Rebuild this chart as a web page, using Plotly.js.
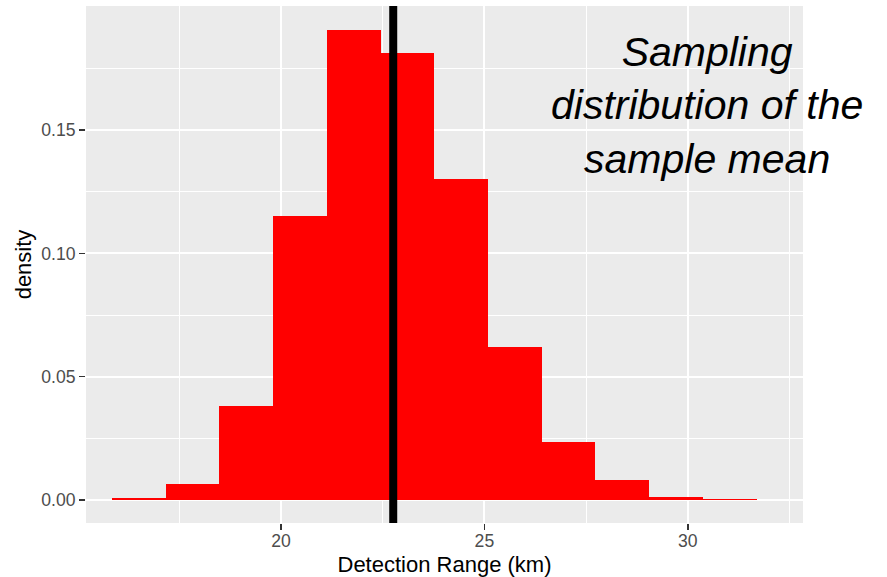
<!DOCTYPE html>
<html>
<head>
<meta charset="utf-8">
<script src="https://cdn.plot.ly/plotly-3.0.1.min.js"></script>
<style>
  html, body { margin: 0; padding: 0; background: #ffffff; }
  #chart { width: 887px; height: 577px; }
</style>
</head>
<body>
<div id="chart"></div>
<script>
// Histogram bin centres (km) and densities
const binCenters = [16.51, 17.83, 19.15, 20.47, 21.79, 23.11, 24.43, 25.75, 27.07, 28.39, 29.71, 31.03, 32.35];
const binWidths  = [1.32, 1.32, 1.32, 1.32, 1.32, 1.32, 1.32, 1.32, 1.32, 1.32, 1.32, 1.32, 1.32];
const densities  = [0.0007, 0.0065, 0.0382, 0.1153, 0.1905, 0.1811, 0.1301, 0.0619, 0.0236, 0.0081, 0.0014, 0.0004, 0.0001];
const meanValue  = 22.76;
const xTickVals  = [20, 25, 30];
const yTickVals  = [0.00, 0.05, 0.10, 0.15];
const annotationText = "Sampling<br>distribution of the<br>sample mean";

const FONT = "Liberation Sans, Arial, Helvetica, sans-serif";

const traces = [{
  type: "bar",
  x: binCenters,
  y: densities,
  width: binWidths,
  marker: { color: "#FF0000", line: { width: 0 } },
  hoverinfo: "x+y",
  showlegend: false
}];

const layout = {
  width: 887,
  height: 577,
  margin: { l: 86, r: 84, t: 6, b: 54, pad: 0 },
  paper_bgcolor: "#FFFFFF",
  plot_bgcolor: "#EBEBEB",
  font: { family: FONT, color: "#000000" },
  showlegend: false,
  bargap: 0,
  xaxis: {
    range: [15.21, 32.83],
    tickmode: "array",
    tickvals: xTickVals,
    ticktext: xTickVals.map(String),
    ticks: "outside",
    ticklen: 6,
    tickwidth: 1.5,
    tickcolor: "#333333",
    ticklabelstandoff: -4,
    tickfont: { family: FONT, size: 17.6, color: "#4D4D4D" },
    showgrid: true,
    gridcolor: "#FFFFFF",
    gridwidth: 2,
    minor: { dtick: 2.5, tick0: 0, showgrid: true, gridcolor: "#FFFFFF", gridwidth: 1, ticks: "" },
    zeroline: false,
    showline: false,
    automargin: false,
    title: { text: "Detection Range (km)", font: { family: FONT, size: 22, color: "#000000" }, standoff: 8 }
  },
  yaxis: {
    range: [-0.00932, 0.2003],
    tickmode: "array",
    tickvals: yTickVals,
    ticktext: yTickVals.map(v => v.toFixed(2)),
    ticks: "outside",
    ticklen: 6,
    tickwidth: 1.5,
    tickcolor: "#333333",
    tickfont: { family: FONT, size: 17.6, color: "#4D4D4D" },
    showgrid: true,
    gridcolor: "#FFFFFF",
    gridwidth: 2,
    minor: { dtick: 0.025, tick0: 0, showgrid: true, gridcolor: "#FFFFFF", gridwidth: 1, ticks: "" },
    zeroline: false,
    showline: false,
    automargin: false,
    title: { text: "density", font: { family: FONT, size: 22, color: "#000000" }, standoff: 3 }
  },
  shapes: [{
    type: "line",
    xref: "x", yref: "paper",
    x0: meanValue, x1: meanValue, y0: 0, y1: 1,
    line: { color: "#000000", width: 8 },
    layer: "above"
  }],
  annotations: [{
    text: "<i>" + annotationText + "</i>",
    xref: "paper", yref: "paper",
    x: (707 - 86) / 717, y: (523 - 105) / 517,
    xanchor: "center", yanchor: "middle",
    align: "center",
    showarrow: false,
    font: { family: FONT, size: 41, color: "#000000" }
  }]
};

Plotly.newPlot("chart", traces, layout, { displayModeBar: false, staticPlot: true });
</script>
</body>
</html>
